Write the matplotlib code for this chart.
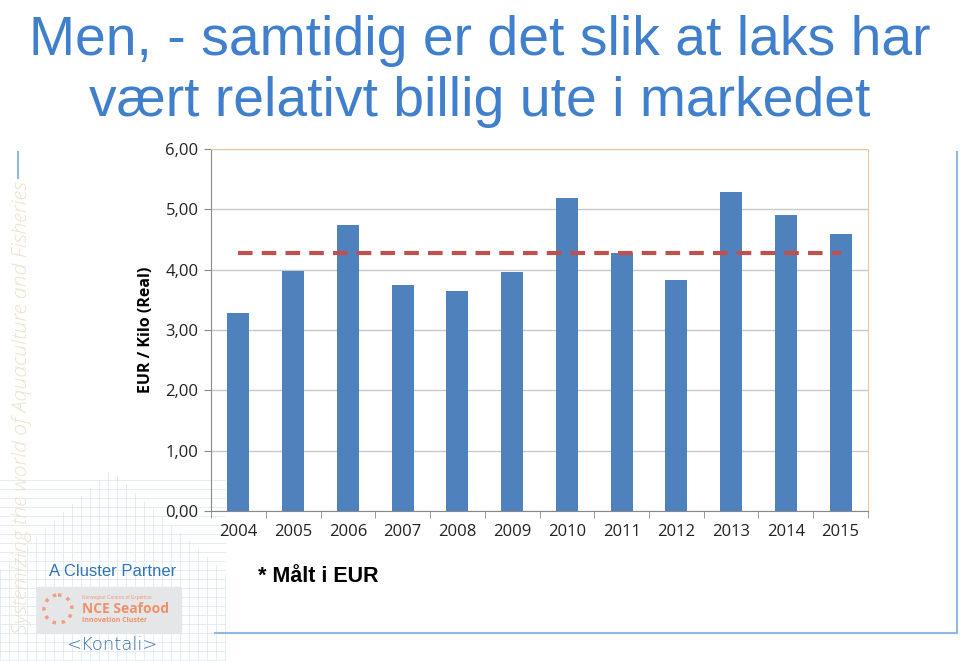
import numpy as np
import matplotlib.pyplot as plt
from matplotlib.patches import Rectangle, Circle

# Data
years = ['2004', '2005', '2006', '2007', '2008', '2009',
         '2010', '2011', '2012', '2013', '2014', '2015']
price = [3.29, 3.97, 4.74, 3.74, 3.64, 3.96, 5.18, 4.27, 3.83, 5.28, 4.90, 4.59]
average = 4.28
yticks = [0, 1, 2, 3, 4, 5, 6]
ytick_labels = ['0,00', '1,00', '2,00', '3,00', '4,00', '5,00', '6,00']

title_1 = 'Men, - samtidig er det slik at laks har'
title_2 = 'vært relativt billig ute i markedet'
side_text = 'Systemizing the world of Aquaculture and Fisheries'

W, H = 960, 661
fig = plt.figure(figsize=(W / 100, H / 100), dpi=100)
fig.patch.set_facecolor('white')

# Helper to go from pixel to figure fraction.
def fx(x):
    return x / W

def fy(y):
    return 1 - y / H

# Faint grid pattern in the lower left corner.
bg = fig.add_axes([0, 0, 1, 1], zorder=0)
bg.set_xlim(0, W)
bg.set_ylim(H, 0)
bg.axis('off')
for gx in np.arange(0, 230, 9):
    top = 470 + abs(gx - 110) * 0.9
    bg.plot([gx, gx], [top, H], color='#dfe9f3', lw=0.6)
for gy in np.arange(480, H, 9):
    bg.plot([0, 225], [gy, gy], color='#dfe9f3', lw=0.6)

# Light blue slide frame.
bg.plot([18, 18], [152, 178], color='#8db8e2', lw=1.5)
bg.plot([215, 957, 957], [633, 633, 152], color='#8db8e2', lw=1.5)

# Logos (approximate).
bg.add_patch(Rectangle((37, 587), 144, 46, color='#e6e6e6', zorder=1))
bg.add_patch(Circle((58, 609), 14, fill=False, ec='#f0a080', lw=2.5, ls=':', zorder=2))
bg.text(82, 597, 'Norwegian Centres of Expertise', fontsize=3.5, color='#f0a080', zorder=2,
        va='center', family='Liberation Sans')
bg.text(82, 609, 'NCE Seafood', fontsize=10, color='#f0906a', zorder=2, weight='bold',
        va='center', family='Open Sans')
bg.text(82, 621, 'Innovation Cluster', fontsize=5, color='#f0906a', zorder=2, weight='bold',
        va='center', family='Open Sans')
bg.text(112, 645, '<Kontali>', fontsize=13, color='#3d6fa8', ha='center', va='center',
        family='DejaVu Sans', weight='light')

# Title.
fig.text(0.5, fy(55), title_1, ha='center', va='baseline', fontsize=39.8,
         color='#3f7fcc', family='Liberation Sans')
fig.text(0.5, fy(116), title_2, ha='center', va='baseline', fontsize=39.8,
         color='#3f7fcc', family='Liberation Sans')

# Vertical side text.
fig.text(fx(22), fy(408), side_text, rotation=90, ha='center', va='center',
         fontsize=15.3, style='italic', color='#ede3cc', family='Open Sans',
         weight='light')

fig.text(fx(113), fy(571), 'A Cluster Partner', ha='center', va='center',
         fontsize=12, color='#2f74b5', family='Liberation Sans')
fig.text(fx(258), fy(576), '* Målt i EUR', ha='left', va='center',
         fontsize=15.5, weight='bold', color='black', family='Liberation Sans')

# Chart.
ax = fig.add_axes([fx(211), fy(511), fx(868) - fx(211), fy(149) - fy(511)], zorder=2)
ax.patch.set_alpha(0)
x = np.arange(len(years))
ax.bar(x, price, width=0.4, color='#4f81bd', zorder=3)
ax.plot([x[0], x[-1]], [average, average], color='#c0504d', lw=3,
        dashes=(3.5, 2.2), zorder=4)

ax.set_xlim(-0.5, len(years) - 0.5)
ax.set_ylim(0, 6)
ax.set_yticks(yticks)
ax.set_yticklabels(ytick_labels)
ax.set_xticks(x)
ax.set_xticklabels(years)
ax.set_xticks(np.arange(-0.5, len(years)), minor=True)
ax.tick_params(axis='x', which='major', length=0, pad=9, labelsize=12)
ax.tick_params(axis='x', which='minor', length=5, color='#888888')
ax.tick_params(axis='y', length=5, color='#888888', pad=4, labelsize=12)
for lab in ax.get_xticklabels() + ax.get_yticklabels():
    lab.set_family('Open Sans')
    lab.set_color('#222222')

ax.grid(axis='y', color='#c8c8c8', lw=1, zorder=0)
ax.spines['left'].set_color('#888888')
ax.spines['bottom'].set_color('#888888')
ax.spines['top'].set_color('#e8c8a0')
ax.spines['top'].set_linestyle((0, (1, 1)))
ax.spines['right'].set_color('#e8c8a0')
ax.spines['right'].set_linestyle((0, (1, 1)))

ax.set_ylabel('EUR / Kilo (Real)', fontsize=11.5, weight='bold', family='Open Sans',
              labelpad=8)

plt.savefig('out.png', dpi=100)
plt.close()
